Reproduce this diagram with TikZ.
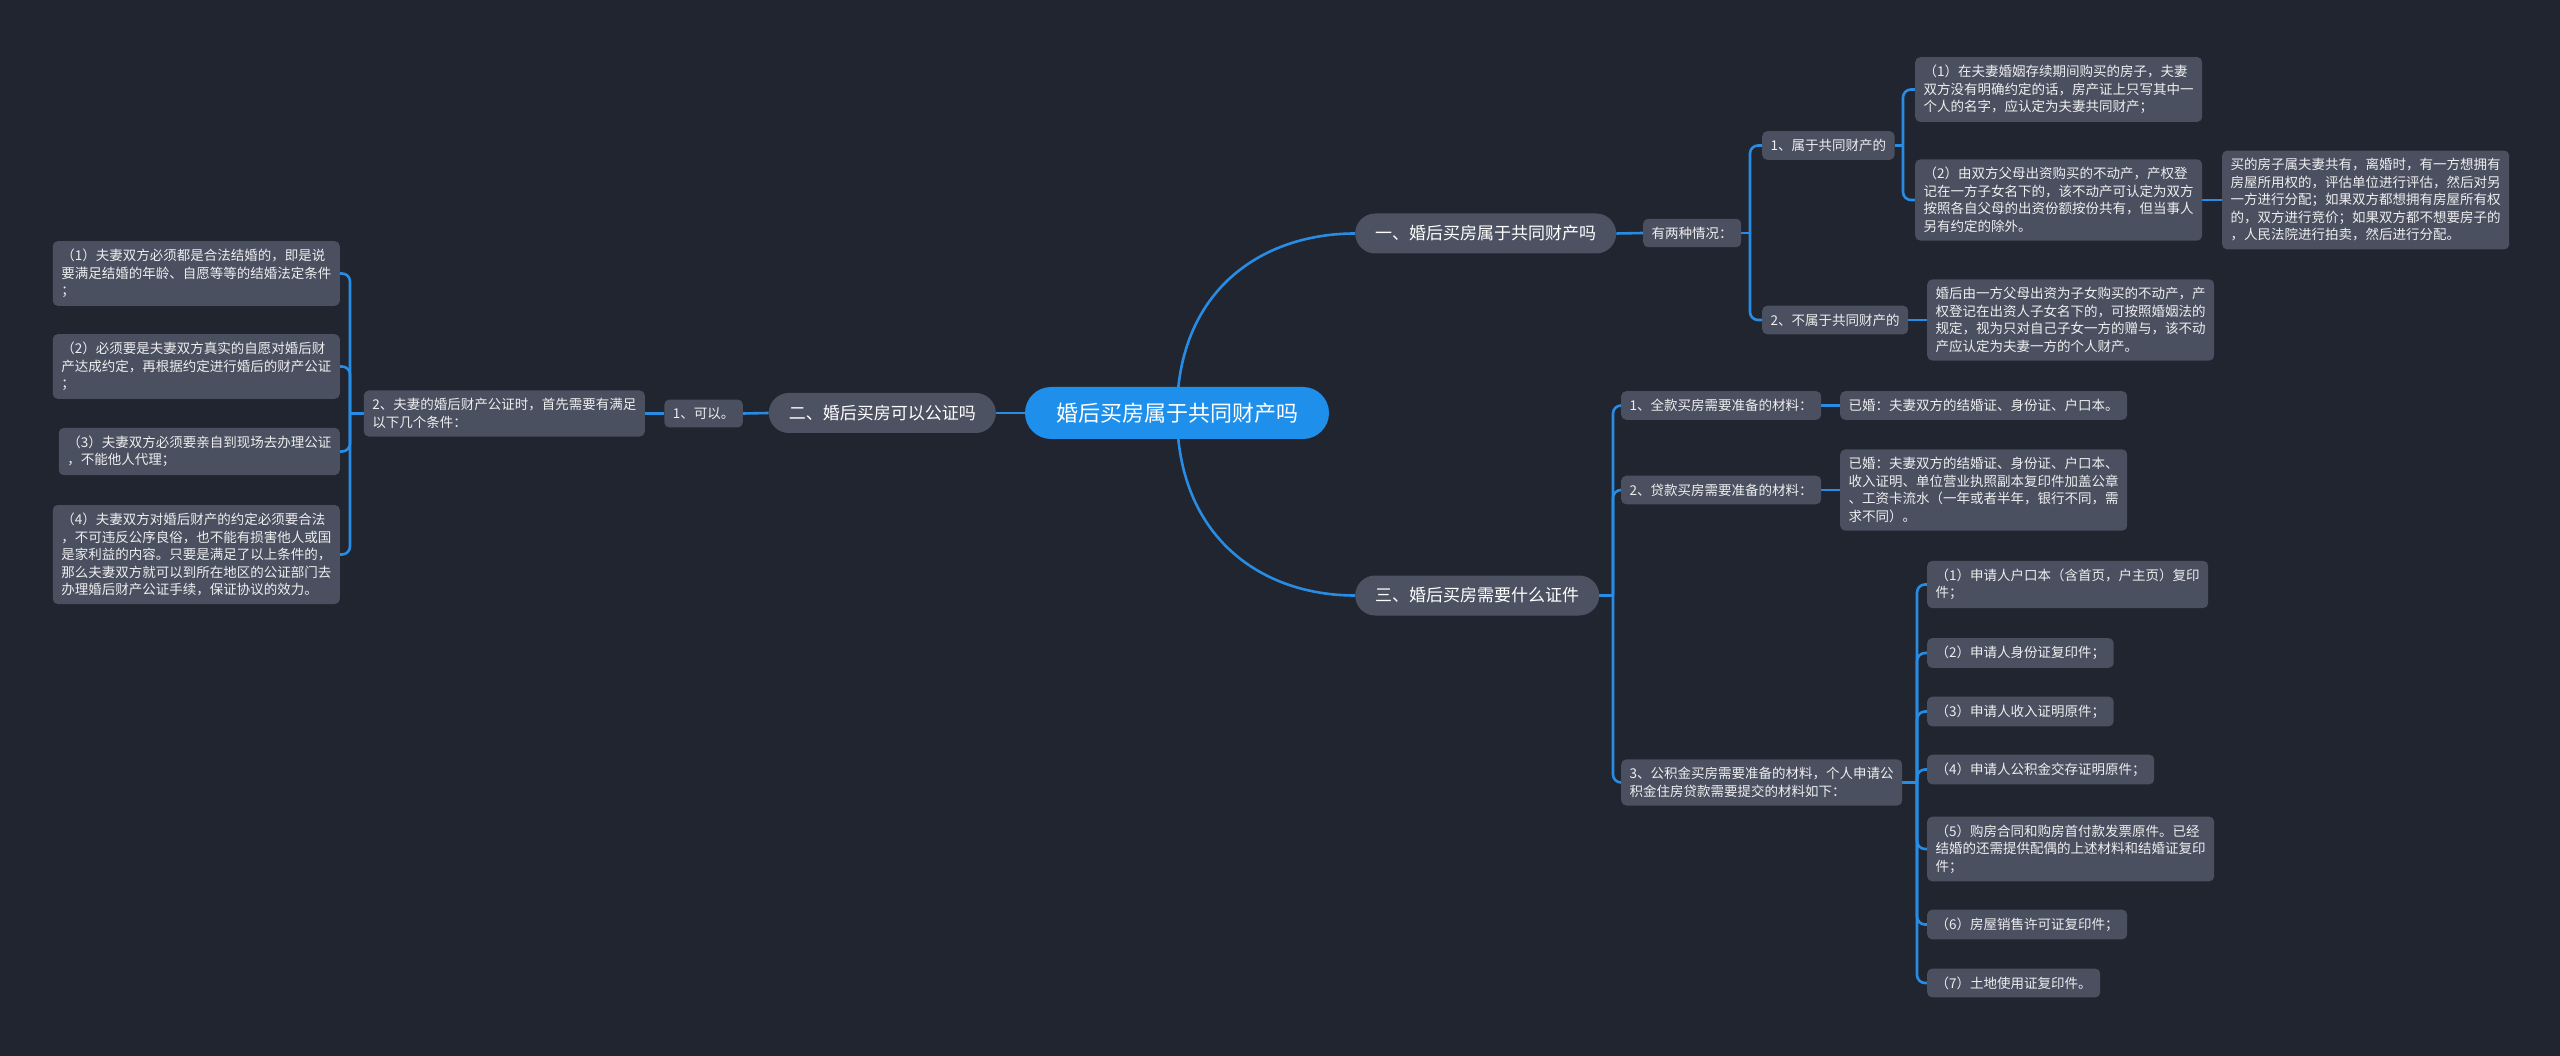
\documentclass[tikz,border=0pt]{standalone}
\usepackage{fontspec}
\setmainfont{Noto Sans CJK SC}
\definecolor{bgc}{RGB}{33,37,47}
\definecolor{leafc}{RGB}{74,80,95}
\definecolor{brc}{RGB}{76,82,98}
\definecolor{rootc}{RGB}{30,144,236}
\definecolor{linec}{RGB}{40,140,228}
\definecolor{txtc}{RGB}{238,238,240}
\pgfdeclarelayer{back}
\pgfdeclarelayer{bg}
\pgfsetlayers{back,bg,main}
\begin{document}
\begin{tikzpicture}[x=1pt,y=-1pt,
  leaf/.style={fill=leafc, rounded corners=5pt, text=txtc, font=\fontsize{13.5}{17.5}\selectfont, inner xsep=8.5pt, inner ysep=8pt, align=left},
  branch/.style={fill=brc, rounded corners=20pt, text=white, font=\fontsize{17}{20}\selectfont, inner xsep=20pt, minimum height=40pt},
  root/.style={fill=rootc, rounded corners=26pt, text=white, font=\fontsize{22}{26}\selectfont, minimum width=304pt, minimum height=52pt},
  conn/.style={draw=linec, line width=2.6pt},
  brk/.style={conn, rounded corners=8pt}]
\begin{pgfonlayer}{back}
\fill[bgc] (0,0) rectangle (2560,1056);
\end{pgfonlayer}
\useasboundingbox (0,0) rectangle (2560,1056);

% root and branches
\node[root] (C) at (1177,413) {婚后买房属于共同财产吗};
\node[branch, anchor=west] (B1) at (1355,233.5) {一、婚后买房属于共同财产吗};
\node[branch, anchor=east] (B2) at (996,413) {二、婚后买房可以公证吗};
\node[branch, anchor=west] (B3) at (1355,595.5) {三、婚后买房需要什么证件};

% left side
\node[leaf, anchor=east] (K1) at (743,413.5) {1、可以。};
\node[leaf, anchor=east] (K2) at (645,413.5) {2、夫妻的婚后财产公证时，首先需要有满足\\以下几个条件：};
\node[leaf, anchor=east] (L1) at (340,273.5) {（1）夫妻双方必须都是合法结婚的，即是说\\要满足结婚的年龄、自愿等等的结婚法定条件\\；};
\node[leaf, anchor=east] (L2) at (340,366.5) {（2）必须要是夫妻双方真实的自愿对婚后财\\产达成约定，再根据约定进行婚后的财产公证\\；};
\node[leaf, anchor=east] (L3) at (340,451.5) {（3）夫妻双方必须要亲自到现场去办理公证\\，不能他人代理；};
\node[leaf, anchor=east] (L4) at (340,554.5) {（4）夫妻双方对婚后财产的约定必须要合法\\，不可违反公序良俗，也不能有损害他人或国\\是家利益的内容。只要是满足了以上条件的，\\那么夫妻双方就可以到所在地区的公证部门去\\办理婚后财产公证手续，保证协议的效力。};

% branch 1
\node[leaf, anchor=west] (T) at (1643,233) {有两种情况：};
\node[leaf, anchor=west] (P1) at (1762,145.5) {1、属于共同财产的};
\node[leaf, anchor=west] (P2) at (1762,320) {2、不属于共同财产的};
\node[leaf, anchor=west] (R1) at (1915,89.5) {（1）在夫妻婚姻存续期间购买的房子，夫妻\\双方没有明确约定的话，房产证上只写其中一\\个人的名字，应认定为夫妻共同财产；};
\node[leaf, anchor=west] (R2) at (1915,200) {（2）由双方父母出资购买的不动产，产权登\\记在一方子女名下的，该不动产可认定为双方\\按照各自父母的出资份额按份共有，但当事人\\另有约定的除外。};
\node[leaf, anchor=west] (R3) at (2222,200) {买的房子属夫妻共有，离婚时，有一方想拥有\\房屋所用权的，评估单位进行评估，然后对另\\一方进行分配；如果双方都想拥有房屋所有权\\的，双方进行竞价；如果双方都不想要房子的\\，人民法院进行拍卖，然后进行分配。};
\node[leaf, anchor=west] (Q) at (1927,320) {婚后由一方父母出资为子女购买的不动产，产\\权登记在出资人子女名下的，可按照婚姻法的\\规定，视为只对自己子女一方的赠与，该不动\\产应认定为夫妻一方的个人财产。};

% branch 3
\node[leaf, anchor=west] (S1) at (1621,405.5) {1、全款买房需要准备的材料：};
\node[leaf, anchor=west] (S1a) at (1840,405.5) {已婚：夫妻双方的结婚证、身份证、户口本。};
\node[leaf, anchor=west] (S2) at (1621,490) {2、贷款买房需要准备的材料：};
\node[leaf, anchor=west] (S2a) at (1840,490) {已婚：夫妻双方的结婚证、身份证、户口本、\\收入证明、单位营业执照副本复印件加盖公章\\、工资卡流水（一年或者半年，银行不同，需\\求不同）。};
\node[leaf, anchor=west] (S3) at (1621,782.5) {3、公积金买房需要准备的材料，个人申请公\\积金住房贷款需要提交的材料如下：};
\node[leaf, anchor=west] (V1) at (1927,584.5) {（1）申请人户口本（含首页，户主页）复印\\件；};
\node[leaf, anchor=west] (V2) at (1927,653) {（2）申请人身份证复印件；};
\node[leaf, anchor=west] (V3) at (1927,711.5) {（3）申请人收入证明原件；};
\node[leaf, anchor=west] (V4) at (1927,769.5) {（4）申请人公积金交存证明原件；};
\node[leaf, anchor=west] (V5) at (1927,849) {（5）购房合同和购房首付款发票原件。已经\\结婚的还需提供配偶的上述材料和结婚证复印\\件；};
\node[leaf, anchor=west] (V6) at (1927,924.5) {（6）房屋销售许可证复印件；};
\node[leaf, anchor=west] (V7) at (1927,983) {（7）土地使用证复印件。};

% junctions
\coordinate (K2j) at (350,413.5);
\coordinate (Tj) at (1750,233);
\coordinate (P1j) at (1903,145.5);
\coordinate (B3j) at (1613,595.5);
\coordinate (S3j) at (1917,782.5);

\begin{pgfonlayer}{bg}
\draw[conn] (C.center) .. controls (1177,290) and (1262,233.5) .. (B1.west);
\draw[conn] (C.center) .. controls (1177,538) and (1262,595.5) .. (B3.west);
\draw[conn] (C.west) -- (B2.east);
\draw[conn] (B2.west) -- (K1.east);
\draw[conn] (K1.west) -- (K2.east);
\draw[conn] (K2.west) -- (K2j);
\foreach \n in {L1,L2,L3,L4} \draw[brk] (K2j) |- (\n.east);
\draw[conn] (B1.east) -- (T.west);
\draw[conn] (T.east) -- (Tj);
\foreach \n in {P1,P2} \draw[brk] (Tj) |- (\n.west);
\draw[conn] (P1.east) -- (P1j);
\foreach \n in {R1,R2} \draw[brk] (P1j) |- (\n.west);
\draw[conn] (R2.east) -- (R3.west);
\draw[conn] (P2.east) -- (Q.west);
\draw[conn] (B3.east) -- (B3j);
\foreach \n in {S1,S2,S3} \draw[brk] (B3j) |- (\n.west);
\draw[conn] (S1.east) -- (S1a.west);
\draw[conn] (S2.east) -- (S2a.west);
\draw[conn] (S3.east) -- (S3j);
\foreach \n in {V1,V2,V3,V4,V5,V6,V7} \draw[brk] (S3j) |- (\n.west);
\end{pgfonlayer}
\end{tikzpicture}
\end{document}
